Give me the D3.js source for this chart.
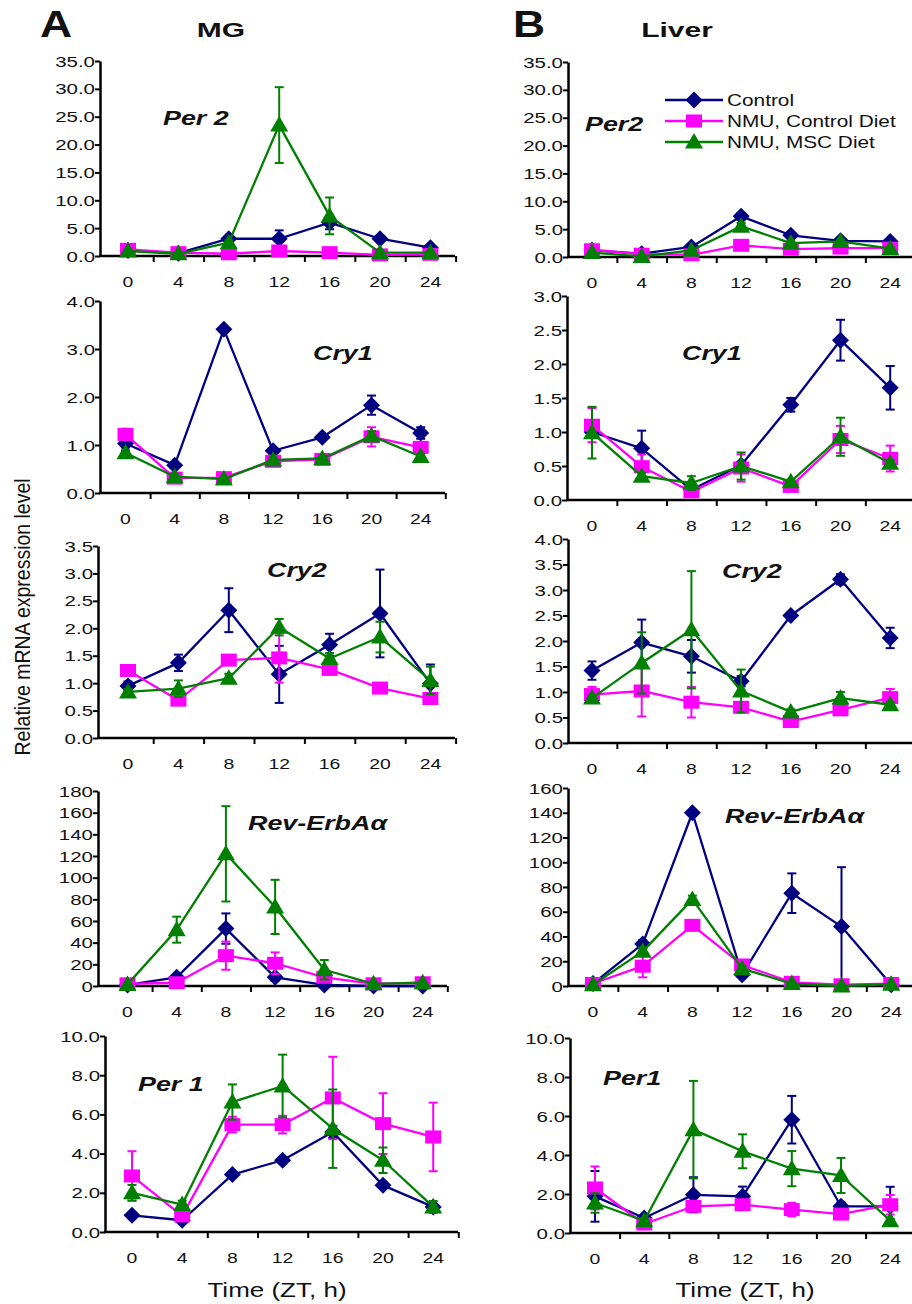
<!DOCTYPE html>
<html>
<head>
<meta charset="utf-8">
<script src="https://cdn.jsdelivr.net/npm/d3@7"></script>
<style>
  html, body { margin: 0; padding: 0; background: #ffffff; }
  svg { display: block; }
</style>
</head>
<body>
<script>
// ---------------- DATA ----------------
const timePoints = [0, 4, 8, 12, 16, 20, 24];
const xTickLabels = ["0", "4", "8", "12", "16", "20", "24"];
const boundaryTicks = [2, 6, 10, 14, 18, 22, 26];
const seriesNames = ["Control", "NMU, Control Diet", "NMU, MSC Diet"];
const tissueTitles = ["MG", "Liver"];
const panelLetters = ["A", "B"];
const geneLabels = ["Per 2", "Cry1", "Cry2", "Rev-ErbA\u03b1", "Per 1", "Per2", "Cry1", "Cry2", "Rev-ErbA\u03b1", "Per1"];
const xAxisTitle = "Time (ZT, h)";
const yAxisTitle = "Relative mRNA expression level";

// MG Per2
const mgPer2Control = [1.0, 0.5, 3.1, 3.1, 6.0, 3.1, 1.5];
const mgPer2ControlErr = [0.2, 0.1, 0.5, 1.5, 1.2, 0.4, 0.3];
const mgPer2NmuCtrl = [1.2, 0.6, 0.4, 0.9, 0.6, 0.2, 0.3];
const mgPer2NmuCtrlErr = [0.3, 0.1, 0.1, 0.3, 0.2, 0.1, 0.1];
const mgPer2NmuMsc = [0.9, 0.4, 2.4, 23.5, 7.2, 0.6, 0.6];
const mgPer2NmuMscErr = [0.2, 0.1, 0.4, 6.8, 3.3, 0.2, 0.2];
// MG Cry1
const mgCry1Control = [1.03, 0.58, 3.41, 0.88, 1.16, 1.83, 1.25];
const mgCry1ControlErr = [0.08, 0.05, 0.03, 0.05, 0.05, 0.2, 0.12];
const mgCry1NmuCtrl = [1.22, 0.31, 0.32, 0.66, 0.70, 1.17, 0.95];
const mgCry1NmuCtrlErr = [0.12, 0.05, 0.03, 0.05, 0.05, 0.2, 0.1];
const mgCry1NmuMsc = [0.84, 0.34, 0.29, 0.69, 0.72, 1.19, 0.76];
const mgCry1NmuMscErr = [0.05, 0.05, 0.03, 0.05, 0.05, 0.1, 0.05];
// MG Cry2
const mgCry2Control = [0.95, 1.37, 2.33, 1.16, 1.70, 2.27, 0.99];
const mgCry2ControlErr = [0.08, 0.15, 0.4, 0.52, 0.2, 0.8, 0.35];
const mgCry2NmuCtrl = [1.23, 0.69, 1.42, 1.46, 1.25, 0.91, 0.72];
const mgCry2NmuCtrlErr = [0.1, 0.05, 0.08, 0.45, 0.05, 0.05, 0.05];
const mgCry2NmuMsc = [0.84, 0.90, 1.09, 2.02, 1.45, 1.84, 1.05];
const mgCry2NmuMscErr = [0.05, 0.15, 0.08, 0.15, 0.1, 0.28, 0.25];
// MG Rev-ErbAa
const mgRevControl = [1, 8, 53, 8, 1, 0, 0];
const mgRevControlErr = [0.5, 3, 14, 3, 1, 1, 1];
const mgRevNmuCtrl = [2, 3, 28, 21, 8, 2, 3];
const mgRevNmuCtrlErr = [0.5, 1, 13, 10, 3, 1, 1];
const mgRevNmuMsc = [1.5, 52, 122, 73, 15, 2, 3];
const mgRevNmuMscErr = [0.5, 12, 44, 25, 9, 1, 1];
// MG Per1
const mgPer1Control = [0.85, 0.6, 2.93, 3.66, 5.1, 2.38, 1.28];
const mgPer1ControlErr = [0.1, 0.1, 0.1, 0.15, 0.3, 0.15, 0.15];
const mgPer1NmuCtrl = [2.86, 0.82, 5.48, 5.48, 6.84, 5.53, 4.85];
const mgPer1NmuCtrlErr = [1.26, 0.2, 0.4, 0.45, 2.1, 1.55, 1.75];
const mgPer1NmuMsc = [2.0, 1.4, 6.63, 7.45, 5.27, 3.66, 1.28];
const mgPer1NmuMscErr = [0.4, 0.2, 0.9, 1.6, 2.0, 0.65, 0.3];
// Liver Per2
const lvPer2Control = [1.2, 0.6, 1.8, 7.3, 3.9, 2.9, 2.8];
const lvPer2ControlErr = [0.2, 0.1, 0.3, 0.6, 0.4, 0.3, 0.3];
const lvPer2NmuCtrl = [1.3, 0.5, 0.4, 2.1, 1.4, 1.6, 1.6];
const lvPer2NmuCtrlErr = [0.2, 0.1, 0.1, 0.3, 0.2, 0.2, 0.2];
const lvPer2NmuMsc = [0.8, 0.1, 1.2, 5.5, 2.5, 2.8, 1.5];
const lvPer2NmuMscErr = [0.2, 0.1, 0.2, 0.6, 0.3, 0.3, 0.2];
// Liver Cry1
const lvCry1Control = [1.0, 0.76, 0.15, 0.51, 1.40, 2.35, 1.65];
const lvCry1ControlErr = [0.05, 0.26, 0.03, 0.05, 0.1, 0.3, 0.32];
const lvCry1NmuCtrl = [1.10, 0.49, 0.12, 0.47, 0.20, 0.89, 0.61];
const lvCry1NmuCtrlErr = [0.25, 0.18, 0.03, 0.2, 0.03, 0.2, 0.19];
const lvCry1NmuMsc = [0.99, 0.35, 0.25, 0.50, 0.27, 0.93, 0.54];
const lvCry1NmuMscErr = [0.38, 0.05, 0.1, 0.2, 0.03, 0.28, 0.05];
// Liver Cry2
const lvCry2Control = [1.42, 1.97, 1.70, 1.21, 2.50, 3.21, 2.06];
const lvCry2ControlErr = [0.18, 0.45, 0.32, 0.1, 0.05, 0.1, 0.2];
const lvCry2NmuCtrl = [0.95, 1.02, 0.80, 0.70, 0.42, 0.65, 0.89];
const lvCry2NmuCtrlErr = [0.15, 0.5, 0.3, 0.08, 0.05, 0.08, 0.17];
const lvCry2NmuMsc = [0.88, 1.57, 2.22, 1.02, 0.61, 0.88, 0.75];
const lvCry2NmuMscErr = [0.05, 0.6, 1.15, 0.42, 0.05, 0.12, 0.05];
// Liver Rev-ErbAa
const lvRevControl = [2, 34, 140, 9, 75, 48, 1];
const lvRevControlErr = [2, 3, 2, 2, 16, 48, 1];
const lvRevNmuCtrl = [2, 16, 49, 17, 3, 1, 2];
const lvRevNmuCtrlErr = [1, 9, 3, 2, 1, 1, 1];
const lvRevNmuMsc = [1, 28, 70, 14, 2, 0, 1.5];
const lvRevNmuMscErr = [0.5, 3, 3, 2, 1, 0.5, 0.5];
// Liver Per1
const lvPer1Control = [1.88, 0.77, 1.96, 1.88, 5.81, 1.37, 1.37];
const lvPer1ControlErr = [1.3, 0.1, 0.9, 0.5, 1.22, 0.2, 1.0];
const lvPer1NmuCtrl = [2.31, 0.46, 1.37, 1.45, 1.2, 0.97, 1.45];
const lvPer1NmuCtrlErr = [1.1, 0.1, 0.15, 0.15, 0.35, 0.1, 0.5];
const lvPer1NmuMsc = [1.54, 0.63, 5.3, 4.19, 3.3, 2.95, 0.63];
const lvPer1NmuMscErr = [0.5, 0.1, 2.5, 0.87, 0.9, 0.9, 0.1];

// y-axis settings (max, step, decimals) per panel
const yMaxes = [35, 4, 3.5, 180, 10, 35, 3, 4, 160, 10];
const ySteps = [5, 1, 0.5, 20, 2, 5, 0.5, 0.5, 20, 2];
const yDecimals = [1, 1, 1, 0, 1, 1, 1, 1, 0, 1];

// ---------------- LAYOUT (positions / styles) ----------------
const W = 912, H = 1304;
const FONT = "'Liberation Sans', Arial, Helvetica, sans-serif";
const colors = ["#000080", "#ff00ff", "#008000"];

const layout = [
  // MG column
  { axisX: 100, t0: 128,   step: 50.4, end: 455, yTop: 61,  yBot: 256,  lx: 163, ly: 125 },
  { axisX: 100, t0: 125.5, step: 49.2, end: 445, yTop: 301, yBot: 493,  lx: 313, ly: 360 },
  { axisX: 98,  t0: 128,   step: 50.4, end: 455, yTop: 546, yBot: 738,  lx: 267, ly: 577 },
  { axisX: 98,  t0: 127.5, step: 49.2, end: 447, yTop: 791, yBot: 986,  lx: 248, ly: 830 },
  { axisX: 105, t0: 132,   step: 50.2, end: 458, yTop: 1036, yBot: 1232, lx: 138, ly: 1091 },
  // Liver column
  { axisX: 568, t0: 592, step: 49.7, end: 912, yTop: 62,  yBot: 257,  lx: 585, ly: 131 },
  { axisX: 567, t0: 592, step: 49.7, end: 912, yTop: 296, yBot: 500,  lx: 682, ly: 360 },
  { axisX: 568, t0: 592, step: 49.7, end: 912, yTop: 539, yBot: 743,  lx: 722, ly: 578 },
  { axisX: 568, t0: 593, step: 49.7, end: 912, yTop: 788, yBot: 986,  lx: 725, ly: 823 },
  { axisX: 570, t0: 595, step: 49.2, end: 912, yTop: 1038, yBot: 1233, lx: 603, ly: 1085 }
];

const panelSeries = [
  [[mgPer2Control, mgPer2ControlErr], [mgPer2NmuCtrl, mgPer2NmuCtrlErr], [mgPer2NmuMsc, mgPer2NmuMscErr]],
  [[mgCry1Control, mgCry1ControlErr], [mgCry1NmuCtrl, mgCry1NmuCtrlErr], [mgCry1NmuMsc, mgCry1NmuMscErr]],
  [[mgCry2Control, mgCry2ControlErr], [mgCry2NmuCtrl, mgCry2NmuCtrlErr], [mgCry2NmuMsc, mgCry2NmuMscErr]],
  [[mgRevControl, mgRevControlErr], [mgRevNmuCtrl, mgRevNmuCtrlErr], [mgRevNmuMsc, mgRevNmuMscErr]],
  [[mgPer1Control, mgPer1ControlErr], [mgPer1NmuCtrl, mgPer1NmuCtrlErr], [mgPer1NmuMsc, mgPer1NmuMscErr]],
  [[lvPer2Control, lvPer2ControlErr], [lvPer2NmuCtrl, lvPer2NmuCtrlErr], [lvPer2NmuMsc, lvPer2NmuMscErr]],
  [[lvCry1Control, lvCry1ControlErr], [lvCry1NmuCtrl, lvCry1NmuCtrlErr], [lvCry1NmuMsc, lvCry1NmuMscErr]],
  [[lvCry2Control, lvCry2ControlErr], [lvCry2NmuCtrl, lvCry2NmuCtrlErr], [lvCry2NmuMsc, lvCry2NmuMscErr]],
  [[lvRevControl, lvRevControlErr], [lvRevNmuCtrl, lvRevNmuCtrlErr], [lvRevNmuMsc, lvRevNmuMscErr]],
  [[lvPer1Control, lvPer1ControlErr], [lvPer1NmuCtrl, lvPer1NmuCtrlErr], [lvPer1NmuMsc, lvPer1NmuMscErr]]
];

// marker shapes
const markerPaths = [
  "M0,-8.5L8.5,0L0,8.5L-8.5,0Z",          // diamond
  "M-8,-6.5H8V6.5H-8Z",                    // square
  "M0,-9L9,6.5L-9,6.5Z"                    // triangle
];

const svg = d3.select("body").append("svg")
  .attr("width", W).attr("height", H)
  .style("font-family", FONT);

function txt(parent, x, y, s, o) {
  o = o || {};
  return parent.append("text")
    .attr("transform", `translate(${x},${y}) scale(${o.sx || 1.3},1)`)
    .attr("text-anchor", o.anchor || "start")
    .attr("font-size", o.size || 16)
    .attr("font-weight", o.weight || "normal")
    .attr("font-style", o.style || "normal")
    .attr("fill", o.fill || "#111")
    .text(s);
}

// headers
txt(svg, 40, 37, panelLetters[0], { size: 37, weight: "bold", sx: 1.2 });
txt(svg, 513, 37, panelLetters[1], { size: 37, weight: "bold", sx: 1.2 });
txt(svg, 221, 37, tissueTitles[0], { size: 20, weight: "bold", sx: 1.5, anchor: "middle" });
txt(svg, 677, 37, tissueTitles[1], { size: 20, weight: "bold", sx: 1.5, anchor: "middle" });

// y-axis title
svg.append("text")
  .attr("transform", "translate(30,617) rotate(-90) scale(1,1.12)")
  .attr("text-anchor", "middle")
  .attr("font-size", 19.5)
  .attr("fill", "#111")
  .text(yAxisTitle);

// x-axis titles
txt(svg, 277, 1297, xAxisTitle, { size: 20, sx: 1.3, anchor: "middle" });
txt(svg, 745, 1297, xAxisTitle, { size: 20, sx: 1.3, anchor: "middle" });

layout.forEach((p, i) => {
  const g = svg.append("g");
  const x = d3.scaleLinear().domain([0, 24]).range([p.t0, p.t0 + 6 * p.step]);
  const y = d3.scaleLinear().domain([0, yMaxes[i]]).range([p.yBot, p.yTop]);
  const yTicks = d3.range(0, yMaxes[i] + ySteps[i] / 2, ySteps[i]);
  const fmt = d3.format("." + yDecimals[i] + "f");

  // y axis (lines via d3 axis)
  const yAx = g.append("g").attr("transform", `translate(${p.axisX},0)`)
    .call(d3.axisLeft(y).tickValues(yTicks).tickSize(5).tickSizeOuter(0).tickFormat(""));
  yAx.select(".domain").attr("stroke", "#000").attr("stroke-width", 2.5);
  yAx.selectAll(".tick line").attr("stroke", "#000").attr("stroke-width", 2);

  // y tick labels
  yTicks.forEach(v => txt(g, p.axisX - 5, y(v) + 5.5, fmt(v), { size: 15.5, anchor: "end", sx: 1.32 }));

  // x axis: ticks at category boundaries
  const xAx = g.append("g").attr("transform", `translate(0,${p.yBot})`)
    .call(d3.axisBottom(x).tickValues(boundaryTicks.filter(t => x(t) <= W)).tickSize(6).tickSizeOuter(0).tickFormat(""));
  xAx.select(".domain").remove();
  xAx.selectAll(".tick line").attr("stroke", "#000").attr("stroke-width", 2);
  g.append("line")
    .attr("x1", p.axisX - 1).attr("x2", p.end)
    .attr("y1", p.yBot).attr("y2", p.yBot)
    .attr("stroke", "#000").attr("stroke-width", 2.5);

  // x tick labels
  timePoints.forEach((t, k) => txt(g, x(t), p.yBot + 31, xTickLabels[k], { size: 15.5, anchor: "middle", sx: 1.25 }));

  // gene label
  txt(g, p.lx, p.ly, geneLabels[i], { size: 21, weight: "bold", style: "italic", sx: 1.28 });

  // series
  const line = d3.line().x((d, k) => x(timePoints[k])).y(d => y(d));
  panelSeries[i].forEach(([vals, errs], s) => {
    const sg = g.append("g");
    sg.append("path").datum(vals)
      .attr("d", line).attr("fill", "none")
      .attr("stroke", colors[s]).attr("stroke-width", 2.3).attr("stroke-linejoin", "round");
    vals.forEach((v, k) => {
      const e = errs[k];
      if (!e) return;
      const cx = x(timePoints[k]);
      const y1 = y(Math.max(0, v - e)), y2 = y(v + e);
      sg.append("line").attr("x1", cx).attr("x2", cx).attr("y1", y1).attr("y2", y2)
        .attr("stroke", colors[s]).attr("stroke-width", 2);
      [y1, y2].forEach(yy => sg.append("line")
        .attr("x1", cx - 4.5).attr("x2", cx + 4.5).attr("y1", yy).attr("y2", yy)
        .attr("stroke", colors[s]).attr("stroke-width", 2));
    });
    sg.selectAll("path.mk").data(vals).join("path").attr("class", "mk")
      .attr("d", markerPaths[s])
      .attr("transform", (d, k) => `translate(${x(timePoints[k])},${y(d)})`)
      .attr("fill", colors[s]);
  });
});

// legend (in Liver Per2 panel)
const lg = svg.append("g");
seriesNames.forEach((name, s) => {
  const yy = 100 + s * 21;
  lg.append("line").attr("x1", 665).attr("x2", 723).attr("y1", yy).attr("y2", yy)
    .attr("stroke", colors[s]).attr("stroke-width", 2.5);
  lg.append("path").attr("d", markerPaths[s]).attr("transform", `translate(694,${yy})`).attr("fill", colors[s]);
  txt(lg, 727, yy + 6, name, { size: 16, sx: 1.3 });
});
</script>
</body>
</html>
